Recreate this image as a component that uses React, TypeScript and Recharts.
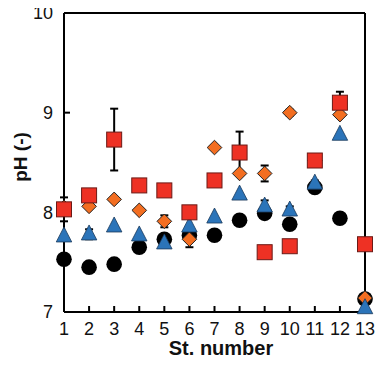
import React from 'react';
import { ScatterChart, Scatter, XAxis, YAxis, ErrorBar, ReferenceLine, Label } from 'recharts';

const stations = [1, 2, 3, 4, 5, 6, 7, 8, 9, 10, 11, 12, 13];
const xTicks = [1, 2, 3, 4, 5, 6, 7, 8, 9, 10, 11, 12, 13];
const yTicks = [7, 8, 9, 10];

const circleVals = [7.53, 7.45, 7.48, 7.65, 7.73, 7.77, 7.77, 7.92, 7.99, 7.88, 8.25, 7.94, 7.13];
const circleErr = [0, 0.05, 0, 0, 0, 0, 0, 0, 0, 0, 0, 0.02, 0];

const triVals = [7.76, 7.78, 7.86, 7.77, 7.69, 7.86, 7.95, 8.18, 8.06, 8.02, 8.29, 8.78, 7.04];
const triErr = [0, 0.05, 0, 0, 0, 0, 0, 0, 0.06, 0.04, 0.03, 0, 0];

const diaVals = [8.05, 8.06, 8.13, 8.02, 7.91, 7.73, 8.65, 8.39, 8.39, 9.0, 8.52, 8.98, 7.14];
const diaErr = [0, 0, 0, 0, 0.06, 0.08, 0, 0, 0.08, 0.03, 0, 0, 0];

const sqVals = [8.03, 8.17, 8.73, 8.27, 8.22, 8.0, 8.32, 8.6, 7.6, 7.66, 8.52, 9.1, 7.68];
const sqErr = [0.12, 0, 0.31, 0, 0.02, 0.02, 0, 0.21, 0, 0, 0.04, 0.11, 0];

const build = (vals: number[], errs: number[]) =>
  stations.map((s, i) => ({ x: s, y: vals[i], e: errs[i] }));

const circleData = build(circleVals, circleErr);
const triData = build(triVals, triErr);
const diaData = build(diaVals, diaErr);
const sqData = build(sqVals, sqErr);

const FONT = '"Liberation Sans", Arial, sans-serif';

const CircleShape = (p: any) => <circle cx={p.cx} cy={p.cy} r={7.8} fill="#000" />;
const TriShape = (p: any) => {
  const { cx, cy } = p;
  const h = 15;
  const w = 15.5;
  const pts = `${cx},${cy - h * 0.62} ${cx + w / 2},${cy + h * 0.38} ${cx - w / 2},${cy + h * 0.38}`;
  return <polygon points={pts} fill="#2B74B9" stroke="#1a3a5c" strokeWidth={0.8} />;
};
const DiaShape = (p: any) => {
  const { cx, cy } = p;
  const r = 7.3;
  const pts = `${cx},${cy - r} ${cx + r},${cy} ${cx},${cy + r} ${cx - r},${cy}`;
  return <polygon points={pts} fill="#F36E21" stroke="#222" strokeWidth={1} />;
};
const SqShape = (p: any) => {
  const { cx, cy } = p;
  const s = 15;
  return <rect x={cx - s / 2} y={cy - s / 2} width={s} height={s} fill="#EE3124" stroke="#6b1a16" strokeWidth={1} />;
};

const XLabel = (props: any) => {
  const vb = props.viewBox;
  return (
    <text x={vb.x + 157} y={vb.y + 43} textAnchor="middle" fontFamily={FONT} fontWeight="bold" fontSize={20} fill="#111">
      St. number
    </text>
  );
};
const YLabel = (props: any) => {
  const vb = props.viewBox;
  const x = vb.x + 19;
  const y = 149;
  return (
    <text x={x} y={y} textAnchor="middle" fontFamily={FONT} fontWeight="bold" fontSize={19} fill="#111" transform={`rotate(-90, ${x}, ${y})`}>
      pH (-)
    </text>
  );
};

export default function App() {
  const tickStyle = { fontFamily: FONT, fontSize: 18, fill: '#111' };
  return (
    <div>
      <style>{`.recharts-surface { overflow: visible; }`}</style>
      <ScatterChart width={376} height={359} margin={{ top: 5, right: 19, bottom: 15, left: 0 }} style={{ fontFamily: FONT }}>
        <XAxis
          type="number"
          dataKey="x"
          domain={[1, 13]}
          ticks={xTicks}
          interval={0}
          height={40}
          tickSize={-6}
          tickMargin={16}
          tick={tickStyle}
          axisLine={{ stroke: '#000', strokeWidth: 2 }}
          tickLine={{ stroke: '#000', strokeWidth: 2 }}
          allowDecimals={false}
        >
          <Label content={XLabel} />
        </XAxis>
        <YAxis
          type="number"
          dataKey="y"
          domain={[7, 10]}
          ticks={yTicks}
          interval={0}
          width={56}
          tickSize={-6}
          tickMargin={17}
          tick={tickStyle}
          axisLine={{ stroke: '#000', strokeWidth: 2 }}
          tickLine={{ stroke: '#000', strokeWidth: 2 }}
        >
          <Label content={YLabel} />
        </YAxis>
        <ReferenceLine y={10} stroke="#000" strokeWidth={2} />
        <ReferenceLine x={13} stroke="#000" strokeWidth={2} />
        <Scatter data={circleData} shape={CircleShape} isAnimationActive={false}>
          <ErrorBar dataKey="e" direction="y" width={4} stroke="#000" strokeWidth={2} />
        </Scatter>
        <Scatter data={diaData} shape={DiaShape} isAnimationActive={false}>
          <ErrorBar dataKey="e" direction="y" width={4} stroke="#000" strokeWidth={2} />
        </Scatter>
        <Scatter data={triData} shape={TriShape} isAnimationActive={false}>
          <ErrorBar dataKey="e" direction="y" width={4} stroke="#000" strokeWidth={2} />
        </Scatter>
        <Scatter data={sqData} shape={SqShape} isAnimationActive={false}>
          <ErrorBar dataKey="e" direction="y" width={4} stroke="#000" strokeWidth={2} />
        </Scatter>
      </ScatterChart>
    </div>
  );
}
